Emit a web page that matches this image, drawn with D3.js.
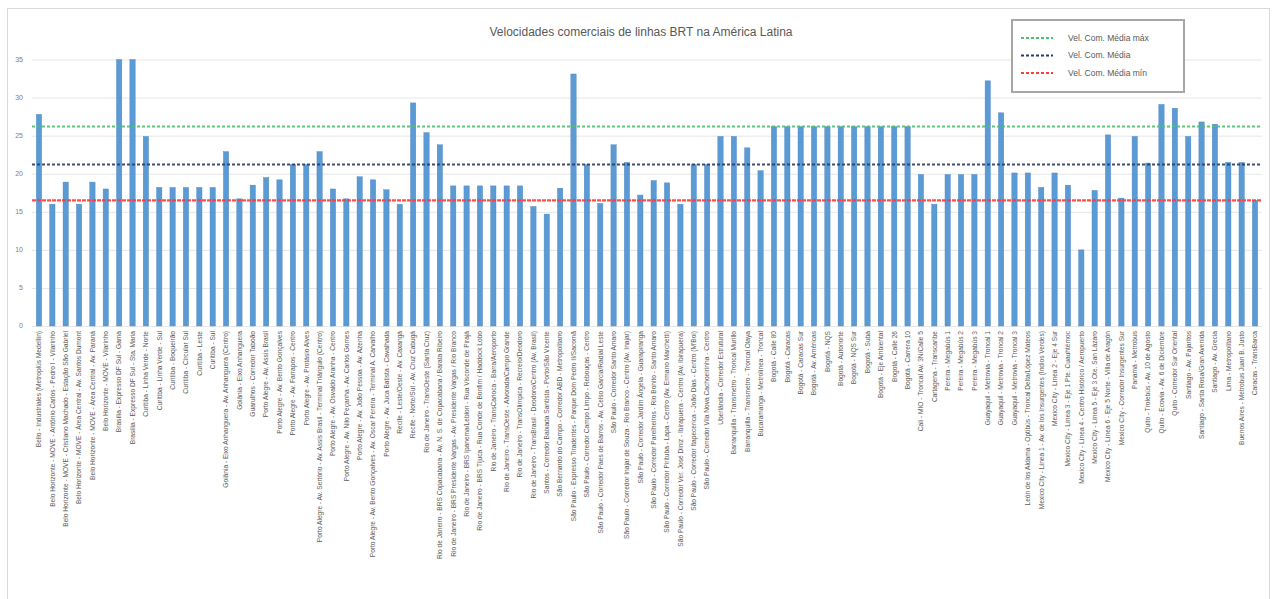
<!DOCTYPE html>
<html>
<head>
<meta charset="utf-8">
<script src="https://cdn.jsdelivr.net/npm/d3@7"></script>
<style>
  body { margin: 0; background: #fff; }
  text { font-family: "Liberation Sans", Arial, sans-serif; }
</style>
</head>
<body>
<div id="chart"></div>
<script>
var chartTitle = "Velocidades comerciais de linhas BRT na América Latina";

var lineNames = [
    "Bello - Industriales (Metroplús Medellín)",
    "Belo Horizonte - MOVE - Antônio Carlos - Pedro I - Vilarinho",
    "Belo Horizonte - MOVE - Cristiano Machado - Estação São Gabriel",
    "Belo Horizonte - MOVE - Área Central - Av. Santos Dumont",
    "Belo Horizonte - MOVE - Área Central - Av. Paraná",
    "Belo Horizonte - MOVE - Vilarinho",
    "Brasília - Expresso DF Sul - Gama",
    "Brasília - Expresso DF Sul - Sta. Maria",
    "Curitiba - Linha Verde - Norte",
    "Curitiba - Linha Verde - Sul",
    "Curitiba - Boqueirão",
    "Curitiba - Circular Sul",
    "Curitiba - Leste",
    "Curitiba - Sul",
    "Goiânia - Eixo Anhanguera - Av. Anhanguera (Centro)",
    "Goiânia - Eixo Anhanguera",
    "Guarulhos - Corredor Taboão",
    "Porto Alegre - Av. Assis Brasil",
    "Porto Alegre - Av. Bento Gonçalves",
    "Porto Alegre - Av. Farrapos - Centro",
    "Porto Alegre - Av. Protásio Alves",
    "Porto Alegre - Av. Sertório - Av. Assis Brasil - Terminal Triângulo (Centro)",
    "Porto Alegre - Av. Osvaldo Aranha - Centro",
    "Porto Alegre - Av. Nilo Peçanha - Av. Carlos Gomes",
    "Porto Alegre - Av. João Pessoa - Av. Azenha",
    "Porto Alegre - Av. Bento Gonçalves - Av. Oscar Pereira - Terminal A. Carvalho",
    "Porto Alegre - Av. Juca Batista - Cavalhada",
    "Recife - Leste/Oeste - Av. Caxangá",
    "Recife - Norte/Sul - Av. Cruz Cabugá",
    "Rio de Janeiro - TransOeste (Santa Cruz)",
    "Rio de Janeiro - BRS Copacabana - Av. N. S. de Copacabana / Barata Ribeiro",
    "Rio de Janeiro - BRS Presidente Vargas - Av. Presidente Vargas / Rio Branco",
    "Rio de Janeiro - BRS Ipanema/Leblon - Rua Visconde de Pirajá",
    "Rio de Janeiro - BRS Tijuca - Rua Conde de Bonfim / Haddock Lobo",
    "Rio de Janeiro - TransCarioca - Barra/Aeroporto",
    "Rio de Janeiro - TransOeste - Alvorada/Campo Grande",
    "Rio de Janeiro - TransOlímpica - Recreio/Deodoro",
    "Rio de Janeiro - TransBrasil - Deodoro/Centro (Av. Brasil)",
    "Santos - Corredor Baixada Santista - Porto/São Vicente",
    "São Bernardo do Campo - Corredor ABD - Metropolitano",
    "São Paulo - Expresso Tiradentes - Parque Dom Pedro II/Sacomã",
    "São Paulo - Corredor Campo Limpo - Rebouças - Centro",
    "São Paulo - Corredor Paes de Barros - Av. Celso Garcia/Radial Leste",
    "São Paulo - Corredor Santo Amaro",
    "São Paulo - Corredor Inajar de Souza - Rio Branco - Centro (Av. Inajar)",
    "São Paulo - Corredor Jardim Ângela - Guarapiranga",
    "São Paulo - Corredor Parelheiros - Rio Bonito - Santo Amaro",
    "São Paulo - Corredor Pirituba - Lapa - Centro (Av. Ermano Marchetti)",
    "São Paulo - Corredor Ver. José Diniz - Ibirapuera - Centro (Av. Ibirapuera)",
    "São Paulo - Corredor Itapecerica - João Dias - Centro (M'Boi)",
    "São Paulo - Corredor Vila Nova Cachoeirinha - Centro",
    "Uberlândia - Corredor Estrutural",
    "Barranquilla - Transmetro - Troncal Murillo",
    "Barranquilla - Transmetro - Troncal Olaya",
    "Bucaramanga - Metrolínea - Troncal",
    "Bogotá - Calle 80",
    "Bogotá - Caracas",
    "Bogotá - Caracas Sur",
    "Bogotá - Av. Américas",
    "Bogotá - NQS",
    "Bogotá - Autonorte",
    "Bogotá - NQS Sur",
    "Bogotá - Suba",
    "Bogotá - Eje Ambiental",
    "Bogotá - Calle 26",
    "Bogotá - Carrera 10",
    "Cali - MIO - Troncal Av. 3N/Calle 5",
    "Cartagena - Transcaribe",
    "Pereira - Megabús 1",
    "Pereira - Megabús 2",
    "Pereira - Megabús 3",
    "Guayaquil - Metrovía - Troncal 1",
    "Guayaquil - Metrovía - Troncal 2",
    "Guayaquil - Metrovía - Troncal 3",
    "León de los Aldama - Optibús - Troncal Delta/López Mateos",
    "Mexico City - Línea 1 - Av. de los Insurgentes (Indios Verdes)",
    "Mexico City - Línea 2 - Eje 4 Sur",
    "Mexico City - Línea 3 - Eje 1 Pte. Cuauhtémoc",
    "Mexico City - Línea 4 - Centro Histórico / Aeropuerto",
    "Mexico City - Línea 5 - Eje 3 Ote. San Lázaro",
    "Mexico City - Línea 6 - Eje 5 Norte - Villa de Aragón",
    "Mexico City - Corredor Insurgentes Sur",
    "Panamá - Metrobus",
    "Quito - Trolebús - Av. 10 de Agosto",
    "Quito - Ecovía - Av. 6 de Diciembre",
    "Quito - Corredor Sur Oriental",
    "Santiago - Av. Pajaritos",
    "Santiago - Santa Rosa/Gran Avenida",
    "Santiago - Av. Grecia",
    "Lima - Metropolitano",
    "Buenos Aires - Metrobus Juan B. Justo",
    "Caracas - TransBarca"
];

var speedValues = [
    27.8, 16.0, 18.9, 16.0, 18.9, 18.0, 35.0, 35.0, 24.9, 18.2,
    18.2, 18.2, 18.2, 18.2, 22.9, 16.7, 18.5, 19.5, 19.2, 21.2,
    21.2, 22.9, 18.0, 16.7, 19.6, 19.2, 17.9, 16.0, 29.3, 25.4,
    23.8, 18.4, 18.4, 18.4, 18.4, 18.4, 18.4, 15.7, 14.7, 18.1,
    33.1, 21.2, 16.1, 23.8, 21.5, 17.2, 19.1, 18.8, 16.0, 21.2,
    21.2, 24.9, 24.9, 23.4, 20.4, 26.2, 26.2, 26.2, 26.2, 26.2,
    26.2, 26.2, 26.2, 26.2, 26.2, 26.2, 19.9, 16.0, 19.9, 19.9,
    19.9, 32.2, 28.0, 20.1, 20.1, 18.2, 20.1, 18.5, 10.0, 17.8,
    25.1, 16.8, 24.9, 21.4, 29.1, 28.6, 24.9, 26.8, 26.5, 21.5,
    21.5, 16.5
];

var refNames = ["Vel. Com. Média máx", "Vel. Com. Média", "Vel. Com. Média mín"];
var refValues = [26.2, 21.2, 16.5];
var refColors = ["#4fc06f", "#2e3a66", "#ff3b3b"];

var yTicks = [0, 5, 10, 15, 20, 25, 30, 35];

var width = 1274, height = 599;

var svg = d3.select("#chart").append("svg")
    .attr("width", width)
    .attr("height", height);

// chart frame
svg.append("rect")
    .attr("x", 7.5).attr("y", 8.5)
    .attr("width", 1262).attr("height", 620)
    .attr("fill", "#fff")
    .attr("stroke", "#d9d9d9");

var x = d3.scaleBand()
    .domain(lineNames)
    .range([32.3, 1261.7])
    .paddingInner(0.6)
    .paddingOuter(0.3);

var y = d3.scaleLinear()
    .domain([0, 35])
    .range([326, 59.5]);

// gridlines
svg.append("g")
    .selectAll("line")
    .data(yTicks)
    .join("line")
    .attr("x1", 32).attr("x2", 1262)
    .attr("y1", function(d) { return y(d) + 0.5; })
    .attr("y2", function(d) { return y(d) + 0.5; })
    .attr("stroke", "#e6e6e6")
    .attr("stroke-width", 1);

// y axis labels
svg.append("g")
    .selectAll("text")
    .data(yTicks)
    .join("text")
    .attr("x", 23)
    .attr("y", function(d) { return y(d); })
    .attr("dy", "0.35em")
    .attr("text-anchor", "end")
    .attr("font-size", 7)
    .attr("fill", "#7f7f7f")
    .text(function(d) { return d; });

// bars
svg.append("g")
    .selectAll("rect")
    .data(speedValues)
    .join("rect")
    .attr("x", function(d, i) { return x(lineNames[i]); })
    .attr("y", function(d) { return y(d); })
    .attr("width", x.bandwidth())
    .attr("height", function(d) { return y(0) - y(d); })
    .attr("fill", "#5b9bd5")
    .attr("stroke", "#4f86c0")
    .attr("stroke-width", 0.4);

// reference lines
svg.append("g")
    .selectAll("line")
    .data(refValues)
    .join("line")
    .attr("x1", 32).attr("x2", 1262)
    .attr("y1", function(d) { return y(d); })
    .attr("y2", function(d) { return y(d); })
    .attr("stroke", function(d, i) { return refColors[i]; })
    .attr("stroke-width", function(d, i) { return i == 2 ? 2.4 : 2; })
    .attr("stroke-dasharray", function(d, i) { return i == 2 ? "4,1" : "3,2"; })
    .attr("opacity", 0.9);

// category labels
svg.append("g")
    .selectAll("text")
    .data(lineNames)
    .join("text")
    .attr("transform", function(d) {
        return "translate(" + (x(d) + x.bandwidth() / 2) + ",331) rotate(-90)";
    })
    .attr("dy", "0.35em")
    .attr("text-anchor", "end")
    .attr("font-size", 6.6)
    .attr("fill", "#595959")
    .text(function(d) { return d; });

// title
svg.append("text")
    .attr("x", 641)
    .attr("y", 36)
    .attr("text-anchor", "middle")
    .attr("font-size", 12)
    .attr("fill", "#595959")
    .text(chartTitle);

// legend
var legend = svg.append("g").attr("transform", "translate(1012,20)");

legend.append("rect")
    .attr("x", 0).attr("y", 0)
    .attr("width", 172).attr("height", 72)
    .attr("fill", "#fff")
    .attr("stroke", "#a6a6a6")
    .attr("stroke-width", 2);

var item = legend.selectAll("g.item")
    .data(refNames)
    .join("g")
    .attr("class", "item")
    .attr("transform", function(d, i) { return "translate(0," + (18 + i * 17.5) + ")"; });

item.append("line")
    .attr("x1", 9).attr("x2", 41)
    .attr("stroke", function(d, i) { return refColors[i]; })
    .attr("stroke-width", 2)
    .attr("stroke-dasharray", "3,2");

item.append("text")
    .attr("x", 56)
    .attr("dy", "0.35em")
    .attr("font-size", 8.5)
    .attr("fill", "#595959")
    .text(function(d) { return d; });
</script>
</body>
</html>
